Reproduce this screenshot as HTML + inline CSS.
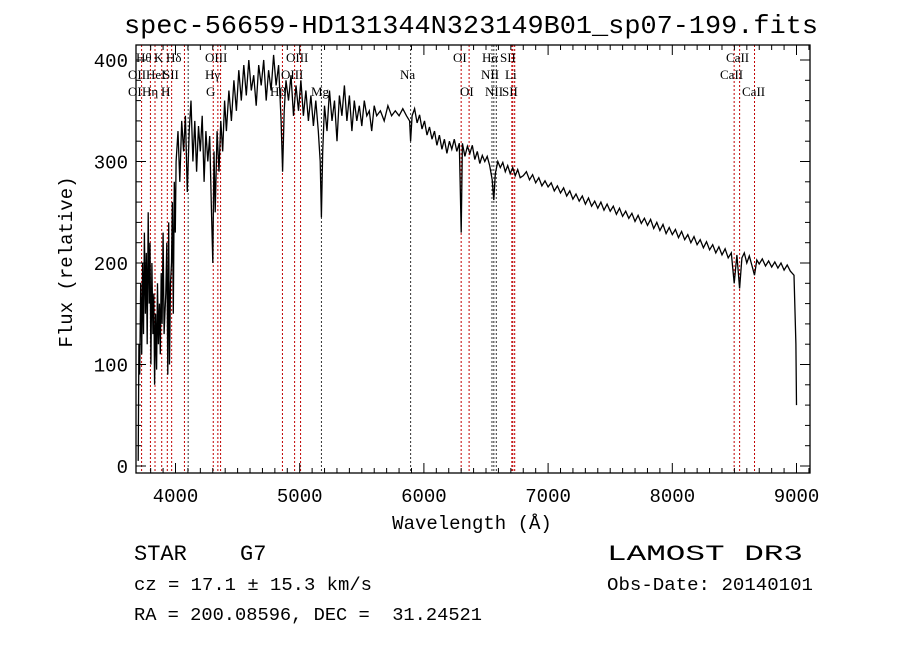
<!DOCTYPE html>
<html><head><meta charset="utf-8"><style>
html,body{margin:0;padding:0;background:#fff;}
svg{display:block;}
text{font-family:"Liberation Mono",monospace;fill:#000;white-space:pre;}
.ll{font-family:"Liberation Serif",serif;font-size:13px;}
</style></head><body>
<svg id="chart" width="900" height="649" viewBox="0 0 900 649" xml:space="preserve">
<text x="471" y="33" text-anchor="middle" font-size="26" textLength="694" lengthAdjust="spacingAndGlyphs">spec-56659-HD131344N323149B01_sp07-199.fits</text>
<g id="lines"></g>
<g id="labels"></g>
<path id="spec" fill="none" stroke="#000" stroke-width="1.3"></path>
<rect x="136" y="45" width="674" height="428" fill="none" stroke="#000" stroke-width="1.3"></rect>
<g id="ticks"></g>
<text x="472" y="529" text-anchor="middle" font-size="19">Wavelength (Å)</text>
<text transform="translate(72,262) rotate(-90)" text-anchor="middle" font-size="19">Flux (relative)</text>
<text x="134" y="560" font-size="22">STAR</text>
<text x="240" y="560" font-size="22">G7</text>
<text x="134" y="590" font-size="18" textLength="238" lengthAdjust="spacingAndGlyphs">cz = 17.1 ± 15.3 km/s</text>
<text x="134" y="620" font-size="18" textLength="348" lengthAdjust="spacingAndGlyphs">RA = 200.08596, DEC =  31.24521</text>
<text x="607" y="560" font-size="22" textLength="196" lengthAdjust="spacingAndGlyphs">LAMOST DR3</text>
<text x="607" y="590" font-size="18" textLength="206" lengthAdjust="spacingAndGlyphs">Obs-Date: 20140101</text>
</svg>
<script>
const lam=[3700,3705,3712,3720,3728,3735,3742,3750,3758,3765,3772,3780,3788,3795,3802,3810,3818,3825,3832,3840,3848,3855,3862,3870,3878,3885,3892,3900,3908,3915,3922,3930,3938,3945,3952,3960,3968,3975,3982,3990,3998,
4005,4020,4035,4050,4065,4080,4095,4110,4125,4140,4155,4170,4185,4200,4215,4230,4245,4260,4275,4290,4300,4310,4320,4335,4350,4365,4380,4395,
4410,4430,4450,4470,4490,4510,4530,4550,4570,4590,4610,4630,4650,4670,4690,4710,4730,4750,4770,4790,4810,4830,4850,4862,4875,4890,4910,4930,4950,4970,4990,5010,5030,5050,5070,5090,5110,5130,5150,5165,5175,5185,5200,5220,5240,5260,5280,5300,5320,5340,5360,5380,5400,5420,5440,5460,5480,5500,5520,5540,5560,5580,5600,5620,5650,5680,5710,5740,5770,5800,5830,5860,5885,5893,
5905,5925,5945,5965,5985,6005,6025,6045,6065,6085,6105,6125,6145,6165,6185,6205,6225,6245,6265,6285,6300,6310,6330,6350,6370,6390,6410,6430,6450,6470,6490,6510,6530,6550,6563,6575,6595,6615,6635,6655,6675,6695,6715,6735,6755,6775,
6800,6825,6850,6875,6900,6925,6950,6975,7000,7025,7050,7075,7100,7125,7150,7175,7200,7225,7250,7275,7300,7325,7350,7375,7400,7425,7450,7475,7500,7525,7550,7575,7600,7625,7650,7675,7700,7725,7750,7775,7800,7825,7850,7875,7900,7925,7950,7975,8000,8025,8050,8075,8100,8125,8150,8175,8200,8225,8250,8275,8300,8325,8350,8375,8400,8425,8450,8475,8498,8520,8542,8560,8580,8600,8620,8640,8662,8680,8700,8725,8750,8775,8800,8825,8850,8875,8900,8925,8950,8980,8995,9000];
const flux=[5,120,90,180,110,200,130,230,150,210,120,250,160,220,100,200,130,170,80,150,95,180,120,160,110,190,140,230,130,150,170,220,90,240,100,180,200,260,150,280,230,
300,330,280,340,310,345,270,330,360,300,340,290,335,310,345,280,330,300,325,250,200,310,250,330,290,340,310,360,
330,370,340,380,350,390,360,395,365,400,370,385,355,395,375,400,360,390,370,405,375,395,340,290,350,380,360,385,345,375,350,380,345,370,340,365,335,360,330,300,245,310,355,330,370,340,360,320,365,345,375,340,365,330,360,340,355,335,360,345,350,330,355,345,350,340,355,345,350,345,352,345,340,320,
345,352,338,346,332,340,326,334,322,330,316,326,312,322,308,320,312,322,310,318,230,318,305,315,308,316,302,310,298,306,300,305,296,282,262,288,300,294,299,290,296,288,294,286,292,284,
286,290,282,287,279,284,276,281,275,279,271,276,269,274,266,271,263,268,261,266,258,264,256,261,254,260,252,258,251,256,248,254,246,251,244,249,241,247,239,244,237,243,234,240,232,238,229,235,228,233,225,231,223,228,220,226,218,223,215,221,213,218,210,216,208,214,205,210,180,208,175,205,210,200,207,198,188,203,199,204,197,202,196,201,195,200,193,198,192,188,120,60];
const lineWl=[3727,3798,3835,3889,3934,3969,4072,4102,4304,4341,4363,4861,4959,5007,5175,5893,6300,6364,6548,6563,6583,6708,6716,6731,8498,8542,8662];
const lineBlack=[false,false,false,false,false,false,false,true,false,false,false,false,false,false,true,true,false,false,true,true,true,false,false,false,false,false,false];
const labText=["Hθ","K","Hδ","OIII","OIII","OII","HeI","SII","Hγ","OIII","OI","Hη","H","G","Hβ","Mg","Na","OI","Hα","SII","CaII","NII","Li","CaII","OI","NII","SII","CaII"];
const labX=[136,154,166,205,286,128,146,163,205,281,128,142,161,206,270,311,400,453,482,500,726,481,505,720,460,485,502,742];
const labRow=[0,0,0,0,0,1,1,1,1,1,2,2,2,2,2,2,1,0,0,0,0,1,1,1,2,2,2,2];
const xTicks=[4000,5000,6000,7000,8000,9000];
const yTicks=[0,100,200,300,400];
const NS="http://www.w3.org/2000/svg";
const xs=l=>175.5+(l-4000)*0.1242;
const ys=f=>466-f*1.015;
function mk(t,a){const e=document.createElementNS(NS,t);for(const k in a)e.setAttribute(k,a[k]);return e;}
const gL=document.getElementById('lines');
lineWl.forEach((w,i)=>{const e=mk('line',{x1:xs(w),x2:xs(w),y1:45,y2:473,stroke:lineBlack[i]?'#333':'#c00000','stroke-width':1,'stroke-dasharray':'2,2'});


gL.appendChild(e);});
const gT=document.getElementById('labels');
labText.forEach((t,i)=>{const e=mk('text',{x:labX[i],y:62+labRow[i]*17,'class':'ll'});e.textContent=t;


gT.appendChild(e);});
let d='';lam.forEach((l,i)=>{d+=(i?'L':'M')+xs(l).toFixed(1)+','+Math.min(473,Math.max(45,ys(flux[i]))).toFixed(1);});
document.getElementById('spec').setAttribute('d',d);
const gK=document.getElementById('ticks');
for(let l=3800;l<=9100;l+=100){const x=xs(l);if(x<136||x>810)continue;const maj=l%1000===0;const len=maj?10:5;
gK.appendChild(mk('line',{x1:x,x2:x,y1:473,y2:473-len,stroke:'#000'}));
gK.appendChild(mk('line',{x1:x,x2:x,y1:45,y2:45+len,stroke:'#000'}));}
xTicks.forEach(v=>{const e=mk('text',{x:xs(v),y:502,'text-anchor':'middle','font-size':19});e.textContent=v;


gK.appendChild(e);});
for(let f=0;f<=400;f+=20){const y=ys(f);const len=f%100===0?10:5;
gK.appendChild(mk('line',{x1:136,x2:136+len,y1:y,y2:y,stroke:'#000'}));
gK.appendChild(mk('line',{x1:810,x2:810-len,y1:y,y2:y,stroke:'#000'}));}
yTicks.forEach(v=>{const e=mk('text',{x:128,y:ys(v)+7,'text-anchor':'end','font-size':19});e.textContent=v;


gK.appendChild(e);});
</script>
</body></html>
